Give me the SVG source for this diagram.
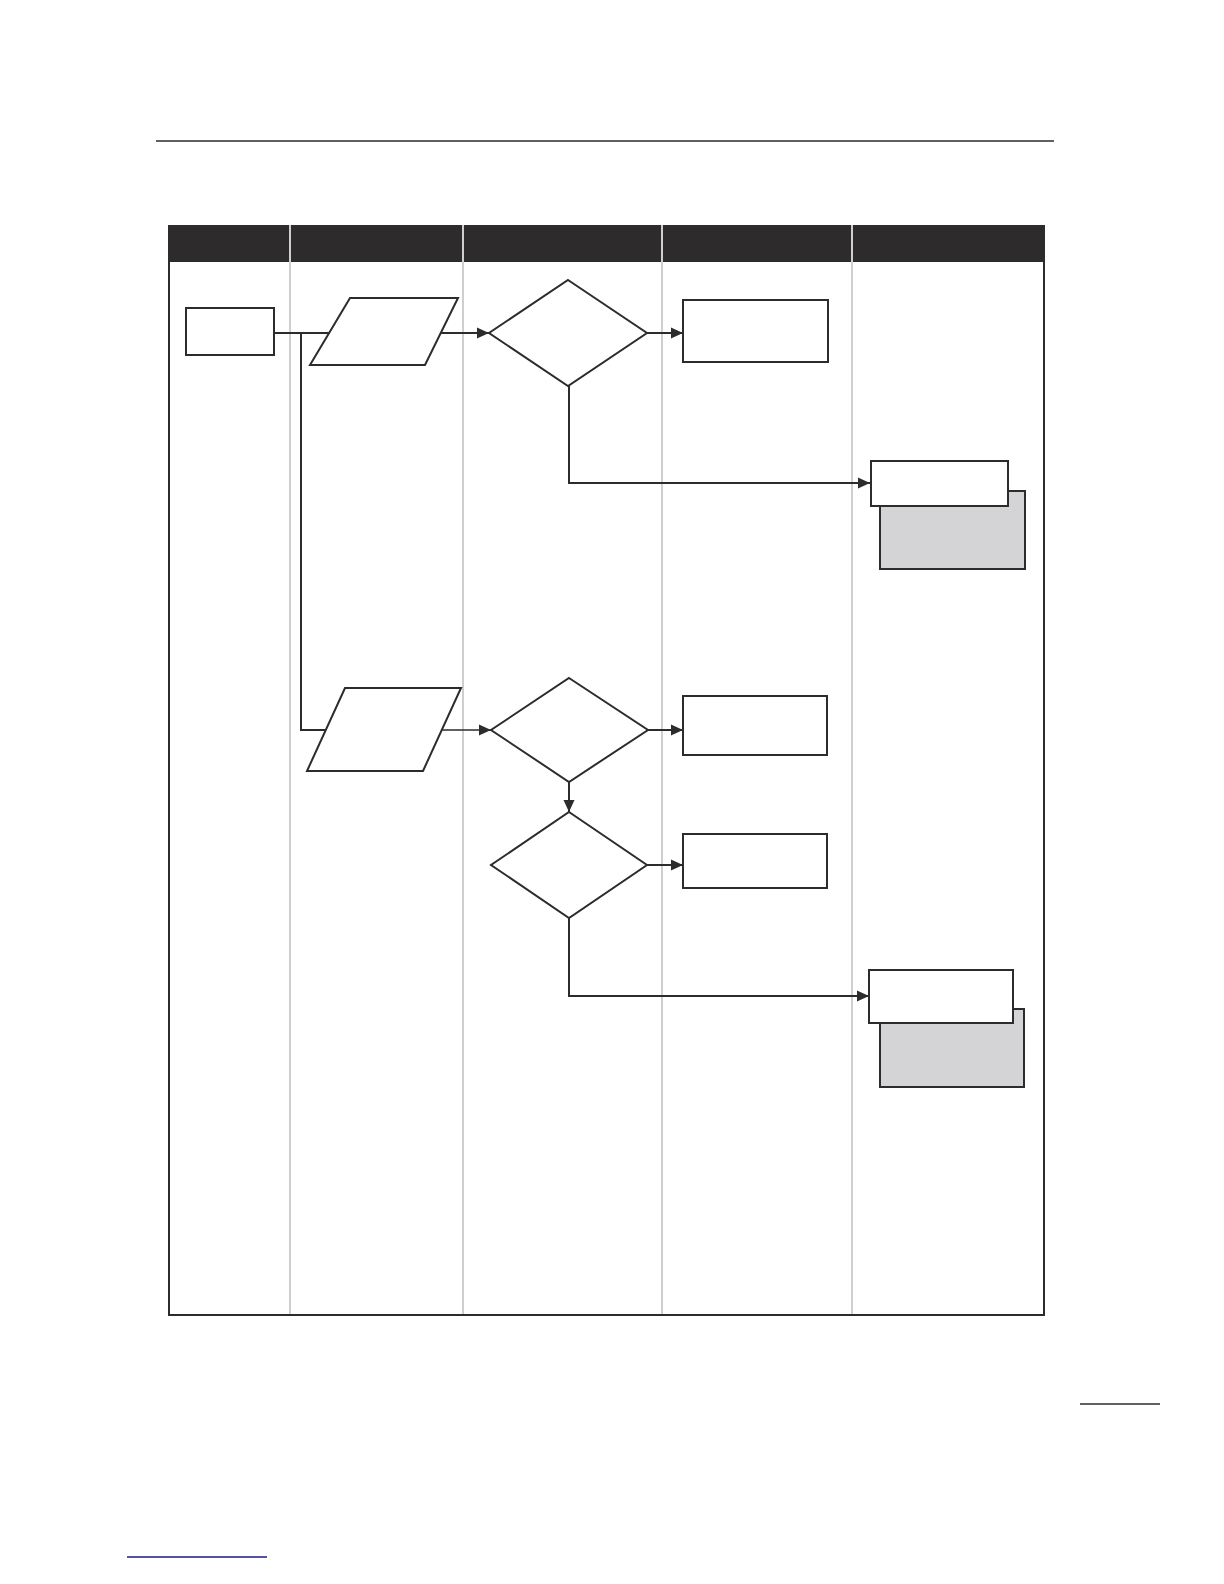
<svg xmlns="http://www.w3.org/2000/svg" width="1224" height="1584" viewBox="0 0 1224 1584">
<style>
.node{fill:#fff;stroke:#2d2b2c;stroke-width:2}
.shadow{fill:#d4d4d6;stroke:#2d2b2c;stroke-width:2}
.conn{fill:none;stroke:#2d2b2c;stroke-width:2}
.thin{fill:none;stroke:#2d2b2c;stroke-width:1.4}
.div{stroke:#cfcfcf;stroke-width:2}
</style>
<defs>
<marker id="ah" viewBox="0 0 12 12" refX="12" refY="6" markerWidth="12" markerHeight="12" markerUnits="userSpaceOnUse" orient="auto">
<path d="M0,0.5 L12,6 L0,11.5 z" fill="#2d2b2c"/>
</marker>
</defs>
<rect width="1224" height="1584" fill="#fff"/>
<line x1="156" y1="141" x2="1054" y2="141" stroke="#2d2b2c" stroke-width="1.6"/>
<g id="table">
<rect x="168" y="225" width="877" height="37" fill="#2d2b2c"/>
<line class="div" x1="290" y1="225" x2="290" y2="1315"/>
<line class="div" x1="463" y1="225" x2="463" y2="1315"/>
<line class="div" x1="662" y1="225" x2="662" y2="1315"/>
<line class="div" x1="852" y1="225" x2="852" y2="1315"/>
<path d="M169,262 V1315 H1044 V262" fill="none" stroke="#2d2b2c" stroke-width="2"/>
</g>
<g id="connectors">
<path class="conn" d="M274,333 H329"/>
<path class="conn" d="M301,333 V730 H326"/>
<path class="conn" d="M441,333 H489" marker-end="url(#ah)"/>
<path class="thin" d="M442,730 H491" marker-end="url(#ah)"/>
<path class="conn" d="M647,333 H683" marker-end="url(#ah)"/>
<path class="conn" d="M569,386 V483 H870" marker-end="url(#ah)"/>
<path class="conn" d="M648,730 H683" marker-end="url(#ah)"/>
<path class="conn" d="M569,782 V812" marker-end="url(#ah)"/>
<path class="conn" d="M647,865 H683" stroke-width="3" marker-end="url(#ah)"/>
<path class="conn" d="M569,918 V996 H869" marker-end="url(#ah)"/>
</g>
<g id="start"><rect class="node" x="186" y="308" width="88" height="47" stroke-width="1.5"/></g>
<g id="input1"><polygon class="node" points="350,298 458,298 425,365 310,365"/></g>
<g id="decision1"><polygon class="node" points="568,280 647,333 568,386 489,333"/></g>
<g id="process1"><rect class="node" x="683" y="300" width="145" height="62"/></g>
<g id="doc1">
<rect class="shadow" x="880" y="491" width="145" height="78"/>
<rect class="node" x="871" y="461" width="137" height="45"/>
</g>
<g id="input2"><polygon class="node" points="345,688 461,688 423,771 307,771"/></g>
<g id="decision2"><polygon class="node" points="569,678 648,730 569,782 491,730"/></g>
<g id="process2"><rect class="node" x="683" y="696" width="144" height="59"/></g>
<g id="decision3"><polygon class="node" points="569,812 647,865 569,918 491,865"/></g>
<g id="process3"><rect class="node" x="683" y="834" width="144" height="54"/></g>
<g id="doc2">
<rect class="shadow" x="880" y="1009" width="144" height="78"/>
<rect class="node" x="869" y="970" width="144" height="53"/>
</g>
<line x1="1080" y1="1404" x2="1160" y2="1404" stroke="#2d2b2c" stroke-width="1.6"/>
<line x1="127" y1="1557" x2="267" y2="1557" stroke="#1a1a8c" stroke-width="1.4"/>
</svg>
